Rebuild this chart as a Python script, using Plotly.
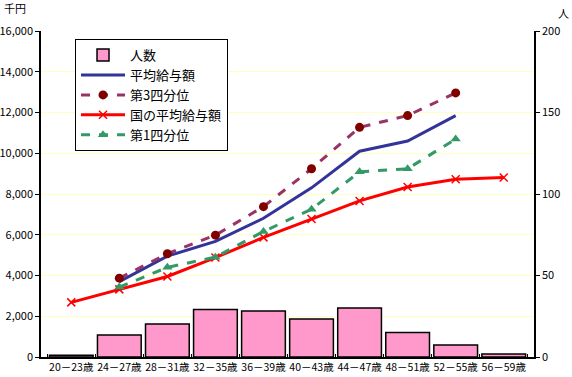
import plotly.graph_objects as go

categories = ["20－23歳", "24－27歳", "28－31歳", "32－35歳", "36－39歳",
              "40－43歳", "44－47歳", "48－51歳", "52－55歳", "56－59歳"]
people = [1, 13.5, 20.2, 29.2, 28.2, 23.3, 30, 15.1, 7.4, 1.8]
avg_pay = [None, 3700, 4950, 5670, 6810, 8300, 10100, 10600, 11850, None]
q3_pay = [None, 3870, 5070, 5980, 7380, 9240, 11270, 11850, 12960, None]
national_pay = [2680, 3320, 3950, 4880, 5870, 6770, 7660, 8340, 8720, 8810]
q1_pay = [None, 3430, 4400, 4900, 6160, 7250, 9090, 9240, 10700, None]

font_family = "Noto Sans CJK JP, sans-serif"

fig = go.Figure()
fig.add_trace(go.Bar(
    x=categories, y=people, name="人数", yaxis="y",
    marker=dict(color="#FF99CC", line=dict(color="black", width=1.5)),
))
fig.add_trace(go.Scatter(
    x=categories, y=avg_pay, name="平均給与額", yaxis="y2", mode="lines",
    line=dict(color="#333399", width=3),
))
fig.add_trace(go.Scatter(
    x=categories, y=q3_pay, name="第3四分位", yaxis="y2", mode="lines+markers",
    line=dict(color="#993366", width=3, dash="dash"),
    marker=dict(symbol="circle", size=9, color="#800000"),
))
fig.add_trace(go.Scatter(
    x=categories, y=national_pay, name="国の平均給与額", yaxis="y2", mode="lines+markers",
    line=dict(color="#FF0000", width=3),
    marker=dict(symbol="x-thin", size=8, line=dict(color="#FF0000", width=1.5)),
))
fig.add_trace(go.Scatter(
    x=categories, y=q1_pay, name="第1四分位", yaxis="y2", mode="lines+markers",
    line=dict(color="#339966", width=3, dash="dash"),
    marker=dict(symbol="triangle-up", size=9, color="#339966"),
))

fig.update_layout(
    width=572, height=377,
    margin=dict(l=41, r=38, t=31, b=20),
    paper_bgcolor="white", plot_bgcolor="white",
    font=dict(family=font_family, size=11, color="black"),
    bargap=0.09,
    showlegend=True,
    legend=dict(
        x=0.069, y=0.975, xanchor="left", yanchor="top",
        bgcolor="white", bordercolor="black", borderwidth=1,
        font=dict(family=font_family, size=13, color="black"),
        traceorder="normal", itemwidth=44,
    ),
    xaxis=dict(
        showline=True, linecolor="black", linewidth=1.5,
        ticks="inside", tickson="boundaries", ticklen=3, tickcolor="black",
        showgrid=False, tickfont=dict(size=10.5), tickangle=0, automargin=False,
    ),
    yaxis=dict(
        side="right", range=[0, 200], dtick=50,
        showline=True, linecolor="black", linewidth=1.5,
        ticks="outside", ticklen=4, tickcolor="black",
        showgrid=False, zeroline=False, tickfont=dict(size=11), automargin=False,
    ),
    yaxis2=dict(
        overlaying="y", side="left", range=[0, 16000], dtick=2000,
        tickformat=",", showline=True, linecolor="black", linewidth=1.5,
        ticks="outside", ticklen=4, tickcolor="black",
        showgrid=True, gridcolor="#FFFFC0", gridwidth=1, zeroline=False,
        tickfont=dict(size=11), automargin=False,
    ),
    annotations=[
        dict(text="千円", x=0, y=1, xref="paper", yref="paper", xshift=-39, yshift=23,
             xanchor="left", yanchor="middle", showarrow=False, font=dict(size=11)),
        dict(text="人", x=1, y=1, xref="paper", yref="paper", xshift=22, yshift=18,
             xanchor="left", yanchor="middle", showarrow=False, font=dict(size=11)),
    ],
)

fig.write_html("out.html", config={"displayModeBar": False},
               post_script="document.body.style.margin='0px';document.body.style.padding='0px';")
